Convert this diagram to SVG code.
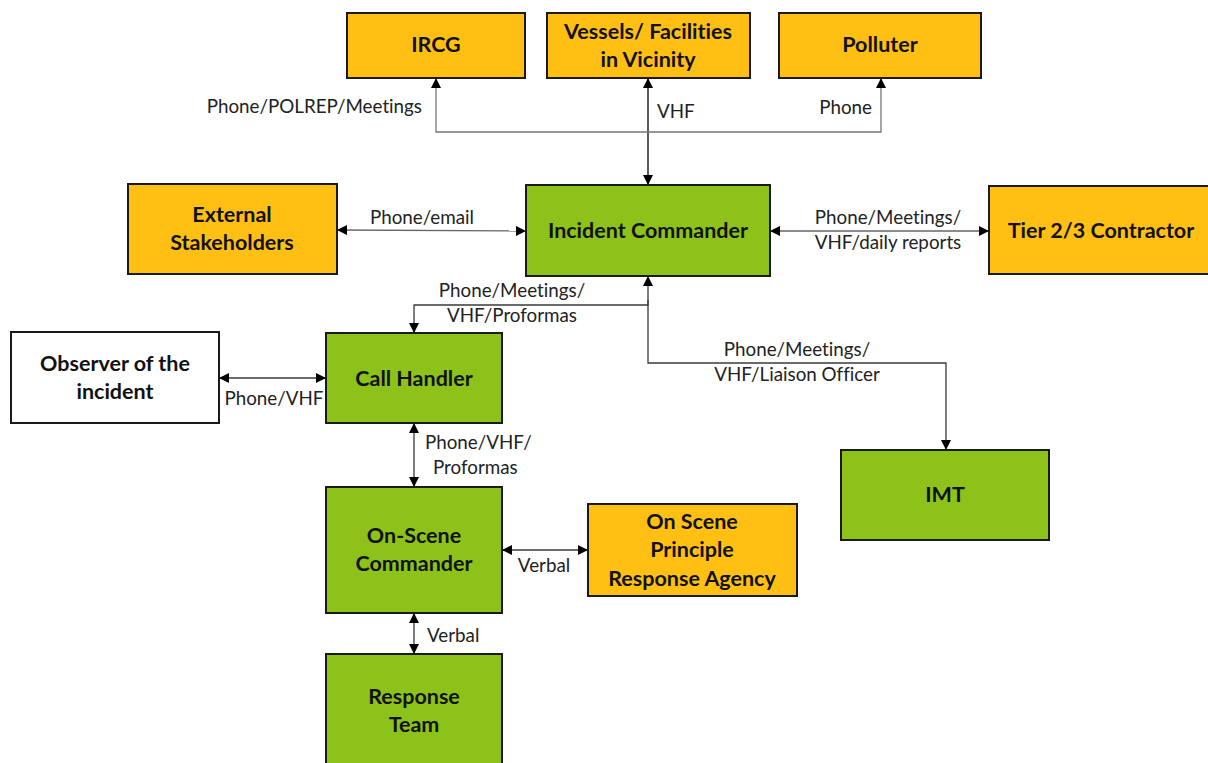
<svg xmlns="http://www.w3.org/2000/svg" width="1208" height="763" viewBox="0 0 1208 763">
  <style>
    .box { stroke: #1a1a1a; stroke-width: 2; }
    .amber { fill: #FFC013; }
    .green { fill: #8DC21A; }
    .white { fill: #FFFFFF; }
    .name { font-family: Lato, "Liberation Sans", sans-serif; font-weight: bold; font-size: 21.5px; fill: #111; text-anchor: middle; font-variant-ligatures: none; }
    .link { fill: none; stroke: #3a3a3a; stroke-width: 1.3; }
    .lbl { font-family: Lato, "Liberation Sans", sans-serif; font-size: 18.8px; fill: #222; font-variant-ligatures: none; }
  </style>
  <defs>
    <marker id="arrow" viewBox="0 0 10 10" refX="10" refY="5" markerWidth="10" markerHeight="10" markerUnits="userSpaceOnUse" orient="auto-start-reverse">
      <path d="M0,0 L10,5 L0,10 Z" fill="#000"/>
    </marker>
  </defs>

  <!-- connectors -->
  <g id="connectors">
    <!-- Incident Commander to the three top parties -->
    <path class="link" d="M648,185 L648,78" marker-start="url(#arrow)" marker-end="url(#arrow)" style="stroke:#000"/>
    <path class="link" d="M436,78 L436,132 L881,132 L881,78" marker-start="url(#arrow)" marker-end="url(#arrow)" style="stroke:#777"/>
    <!-- External Stakeholders -->
    <path class="link" d="M337,230 L526,231" marker-start="url(#arrow)" marker-end="url(#arrow)" style="stroke:#666"/>
    <!-- Tier 2/3 Contractor -->
    <path class="link" d="M770,231 L989,231" marker-start="url(#arrow)" marker-end="url(#arrow)" style="stroke:#666"/>
    <!-- Incident Commander to Call Handler -->
    <path class="link" d="M648,276 L648,305 L414,305 L414,333" marker-start="url(#arrow)" marker-end="url(#arrow)"/>
    <!-- Incident Commander to IMT -->
    <path class="link" d="M648,300 L648,363 L946,363 L946,450" marker-end="url(#arrow)"/>
    <!-- Observer to Call Handler -->
    <path class="link" d="M219,378 L326,378" marker-start="url(#arrow)" marker-end="url(#arrow)"/>
    <!-- Call Handler to On-Scene Commander -->
    <path class="link" d="M414,423 L414,487" marker-start="url(#arrow)" marker-end="url(#arrow)"/>
    <!-- On-Scene Commander to Response Agency -->
    <path class="link" d="M502,550 L588,550" marker-start="url(#arrow)" marker-end="url(#arrow)"/>
    <!-- On-Scene Commander to Response Team -->
    <path class="link" d="M414,613 L414,654" marker-start="url(#arrow)" marker-end="url(#arrow)"/>

    <text class="lbl" x="422" y="113" text-anchor="end">Phone/POLREP/Meetings</text>
    <text class="lbl" x="657" y="118">VHF</text>
    <text class="lbl" x="872" y="114" text-anchor="end">Phone</text>
    <text class="lbl" x="422" y="224" text-anchor="middle">Phone/email</text>
    <text class="lbl" x="888" y="224" text-anchor="middle">Phone/Meetings/</text>
    <text class="lbl" x="888" y="249" text-anchor="middle">VHF/daily reports</text>
    <text class="lbl" x="512" y="297" text-anchor="middle">Phone/Meetings/</text>
    <text class="lbl" x="512" y="322" text-anchor="middle">VHF/Proformas</text>
    <text class="lbl" x="797" y="356" text-anchor="middle">Phone/Meetings/</text>
    <text class="lbl" x="797" y="381" text-anchor="middle">VHF/Liaison Officer</text>
    <text class="lbl" x="274" y="405" text-anchor="middle">Phone/VHF</text>
    <text class="lbl" x="425" y="449">Phone/VHF/</text>
    <text class="lbl" x="433" y="474">Proformas</text>
    <text class="lbl" x="544" y="572" text-anchor="middle">Verbal</text>
    <text class="lbl" x="427" y="642">Verbal</text>
  </g>

  <!-- nodes -->
  <g id="ircg">
    <rect class="box amber" x="347" y="13" width="178" height="65"/>
    <text class="name" x="436" y="52">IRCG</text>
  </g>
  <g id="vessels">
    <rect class="box amber" x="547" y="13" width="203" height="65"/>
    <text class="name" x="648" y="39">Vessels/ Facilities</text>
    <text class="name" x="648" y="67">in Vicinity</text>
  </g>
  <g id="polluter">
    <rect class="box amber" x="779" y="13" width="202" height="65"/>
    <text class="name" x="880" y="52">Polluter</text>
  </g>
  <g id="external-stakeholders">
    <rect class="box amber" x="128" y="184" width="209" height="90"/>
    <text class="name" x="232" y="222">External</text>
    <text class="name" x="232" y="250">Stakeholders</text>
  </g>
  <g id="incident-commander">
    <rect class="box green" x="526" y="185" width="244" height="91"/>
    <text class="name" x="648" y="238">Incident Commander</text>
  </g>
  <g id="tier-contractor">
    <rect class="box amber" x="989" y="186" width="222" height="88"/>
    <text class="name" x="1101" y="238">Tier 2/3 Contractor</text>
  </g>
  <g id="observer">
    <rect class="box white" x="11" y="332" width="208" height="91"/>
    <text class="name" x="115" y="371">Observer of the</text>
    <text class="name" x="115" y="399">incident</text>
  </g>
  <g id="call-handler">
    <rect class="box green" x="326" y="333" width="176" height="90"/>
    <text class="name" x="414" y="386">Call Handler</text>
  </g>
  <g id="imt">
    <rect class="box green" x="841" y="450" width="208" height="90"/>
    <text class="name" x="945" y="502">IMT</text>
  </g>
  <g id="on-scene-commander">
    <rect class="box green" x="326" y="487" width="176" height="126"/>
    <text class="name" x="414" y="543">On-Scene</text>
    <text class="name" x="414" y="571">Commander</text>
  </g>
  <g id="response-agency">
    <rect class="box amber" x="588" y="504" width="209" height="92"/>
    <text class="name" x="692" y="529">On Scene</text>
    <text class="name" x="692" y="557">Principle</text>
    <text class="name" x="692" y="586">Response Agency</text>
  </g>
  <g id="response-team">
    <rect class="box green" x="326" y="654" width="176" height="115"/>
    <text class="name" x="414" y="704">Response</text>
    <text class="name" x="414" y="732">Team</text>
  </g>
</svg>
